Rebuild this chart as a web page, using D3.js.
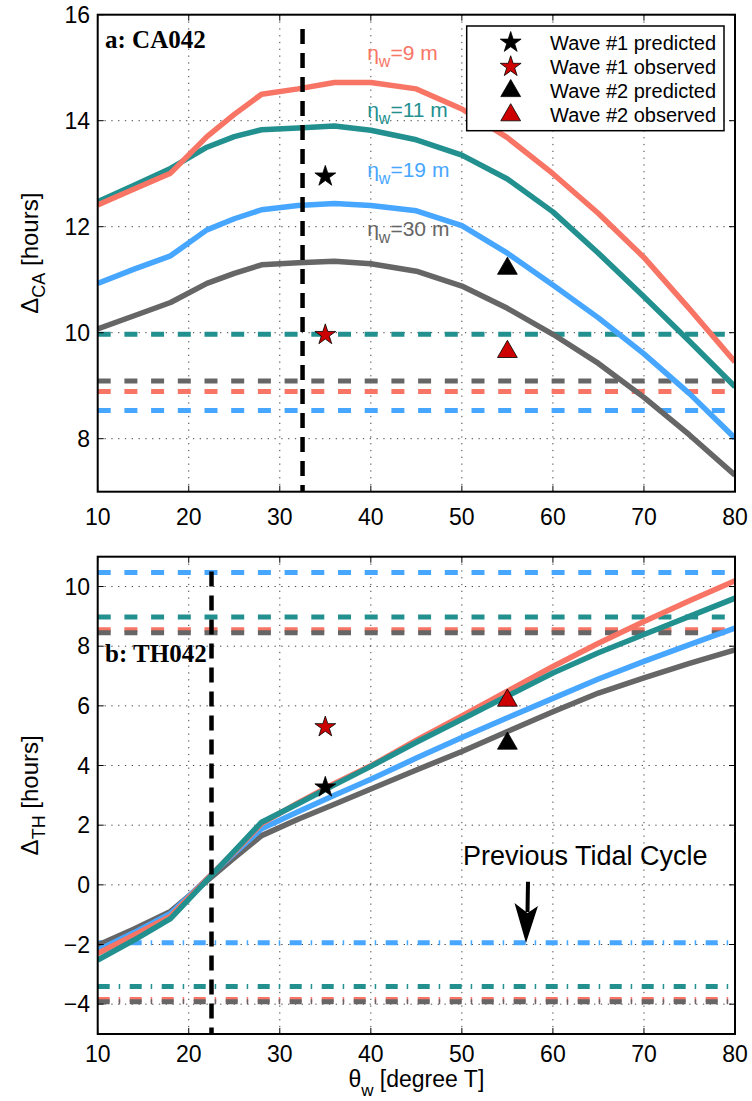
<!DOCTYPE html>
<html><head><meta charset="utf-8">
<script src="https://cdn.jsdelivr.net/npm/d3@7"></script>
<style>body{margin:0;background:#fff}svg{display:block;font-family:"Liberation Sans",Arial,sans-serif}</style>
</head><body><div id="chart"></div>
<script>
// ---------- data ----------
const theta = [10,14,18,22,25,28,32,36,40,45,50,55,60,65,70,75,80];
const seriesNames = ["9","11","19","30"];
const seriesColors = ["#F87565","#22908F","#47A6FF","#666666"];
// panel a: Delta_CA [hours]
const caEta9  = [12.41,12.71,13.01,13.70,14.12,14.50,14.60,14.72,14.72,14.60,14.22,13.68,13.00,12.25,11.42,10.45,9.45];
const caEta11 = [12.47,12.78,13.10,13.50,13.70,13.83,13.86,13.90,13.82,13.64,13.35,12.90,12.28,11.50,10.68,9.84,8.98];
const caEta19 = [10.93,11.20,11.45,11.94,12.15,12.32,12.40,12.44,12.40,12.30,12.02,11.50,10.90,10.28,9.60,8.85,8.01];
const caEta30 = [10.07,10.32,10.57,10.93,11.12,11.28,11.32,11.35,11.30,11.16,10.88,10.46,9.97,9.42,8.78,8.07,7.31];
const caObsLevels = [8.89,9.97,8.53,9.09];          // dashed horizontal lines (per eta)
// panel b: Delta_TH [hours]
const thEta9  = [-2.30,-1.68,-1.05,0.20,1.10,2.05,2.75,3.40,3.99,4.85,5.66,6.49,7.32,8.10,8.83,9.52,10.19];
const thEta11 = [-2.52,-1.85,-1.13,0.16,1.13,2.10,2.72,3.35,3.97,4.78,5.55,6.33,7.10,7.78,8.39,9.00,9.61];
const thEta19 = [-2.19,-1.60,-0.96,0.20,1.05,1.88,2.45,3.00,3.54,4.25,4.94,5.60,6.25,6.90,7.49,8.05,8.61];
const thEta30 = [-2.02,-1.48,-0.89,0.13,0.90,1.65,2.20,2.70,3.21,3.85,4.47,5.14,5.80,6.43,6.94,7.42,7.88];
const thLevels = [8.55,8.98,10.47,8.45];            // dashed horizontal lines
const thPrevLevels = [-3.84,-3.41,-1.94,-3.92];     // dash-dot (previous tidal cycle)
// observations
const waveTheta = [35,55];
const caPredicted = [12.95,11.21], caObserved = [9.96,9.64];
const thPredicted = [3.27,4.74],  thObserved = [5.29,6.18];
const caVertical = 32.5, thVertical = 22.5;
const legendLabels = ["Wave #1 predicted","Wave #1 observed","Wave #2 predicted","Wave #2 observed"];
const xTicks = [10,20,30,40,50,60,70,80];
const caTicks = [8,10,12,14,16];
const thTicks = [-4,-2,0,2,4,6,8,10];

// ---------- layout ----------
const W=752,H=1101;
const svg=d3.select("#chart").append("svg").attr("width",W).attr("height",H);
const x=d3.scaleLinear().domain([10,80]).range([97.7,735]);
const yA=d3.scaleLinear().domain([7,16]).range([491.7,14.7]);
const yB=d3.scaleLinear().domain([-5,11]).range([1034,556.7]);
const RED="#CC0000";
const LW=5.5;

function panel(y, ticks){
  const g=svg.append("g");
  const [x0,x1]=x.range(), [y1,y0]=y.range();
  g.selectAll(".gx").data(xTicks.slice(1,-1)).join("line")
    .attr("x1",d=>x(d)).attr("x2",d=>x(d)).attr("y1",y0).attr("y2",y1)
    .attr("stroke","#444").attr("stroke-width",1).attr("stroke-dasharray","1.3,5.5");
  g.selectAll(".gy").data(ticks.filter(t=>t>y.domain()[0]&&t<y.domain()[1])).join("line")
    .attr("x1",x0).attr("x2",x1).attr("y1",d=>y(d)).attr("y2",d=>y(d))
    .attr("stroke","#444").attr("stroke-width",1).attr("stroke-dasharray","1.3,5.5");
  return g;
}
function frame(y, ticks, tickBaseline){
  const g=svg.append("g");
  const [x0,x1]=x.range(), [y1,y0]=y.range();
  const tl=6;
  xTicks.forEach(t=>{
    g.append("line").attr("x1",x(t)).attr("x2",x(t)).attr("y1",y1).attr("y2",y1-tl).attr("stroke","#000");
    g.append("line").attr("x1",x(t)).attr("x2",x(t)).attr("y1",y0).attr("y2",y0+tl).attr("stroke","#000");
  });
  ticks.forEach(t=>{
    g.append("line").attr("x1",x0).attr("x2",x0+tl).attr("y1",y(t)).attr("y2",y(t)).attr("stroke","#000");
    g.append("line").attr("x1",x1).attr("x2",x1-tl).attr("y1",y(t)).attr("y2",y(t)).attr("stroke","#000");
  });
  g.append("rect").attr("x",x0).attr("y",y0).attr("width",x1-x0).attr("height",y1-y0)
    .attr("fill","none").attr("stroke","#000").attr("stroke-width",2);
  g.selectAll(".xl").data(xTicks).join("text").attr("x",d=>x(d)).attr("y",tickBaseline)
    .attr("text-anchor","middle").attr("font-size",23).text(d=>d);
  g.selectAll(".yl").data(ticks).join("text").attr("x",90).attr("y",d=>y(d)).attr("dy","0.36em")
    .attr("text-anchor","end").attr("font-size",23).text(d=>d<0?"\u2212"+Math.abs(d):d);
}
function markers(g, y, pred, obs){
  const star=d3.symbol().type(d3.symbolStar).size(135);
  const tri=d3.symbol().type(d3.symbolTriangle).size(170);
  [[pred,"#000"],[obs,RED]].forEach(([vals,fill])=>{
    g.append("path").attr("d",star).attr("transform",`translate(${x(waveTheta[0])},${y(vals[0])})`)
      .attr("fill",fill).attr("stroke","#000").attr("stroke-width",0.8);
    g.append("path").attr("d",tri).attr("transform",`translate(${x(waveTheta[1])},${y(vals[1])})`)
      .attr("fill",fill).attr("stroke","#000").attr("stroke-width",0.8);
  });
}
const line=(y)=>d3.line().x((d,i)=>x(theta[i])).y(d=>y(d));

// ---------- panel a ----------
panel(yA,caTicks);
svg.append("clipPath").attr("id","cA").append("rect")
  .attr("x",97.7).attr("y",14.7).attr("width",735-97.7).attr("height",491.7-14.7);
const dA=svg.append("g").attr("clip-path","url(#cA)");
const caSeries=[caEta9,caEta11,caEta19,caEta30];
[3,0,1,2].forEach(i=>{
  dA.append("line").attr("x1",x(10)).attr("x2",x(80)).attr("y1",yA(caObsLevels[i])).attr("y2",yA(caObsLevels[i]))
    .attr("stroke",seriesColors[i]).attr("stroke-width",5).attr("stroke-dasharray","13,13.7");
});
[3,2,1,0].forEach(i=>{
  dA.append("path").attr("d",line(yA)(caSeries[i])).attr("fill","none")
    .attr("stroke",seriesColors[i]).attr("stroke-width",LW).attr("stroke-linejoin","round");
});
dA.append("line").attr("x1",x(caVertical)).attr("x2",x(caVertical)).attr("y1",yA(15.73)).attr("y2",yA(7))
  .attr("stroke","#000").attr("stroke-width",4.5).attr("stroke-dasharray","15,9");
const etaLabelY=[15.15,14.07,12.93,11.82];
seriesNames.forEach((n,i)=>{
  const t=dA.append("text").attr("x",x(39.6)).attr("y",yA(etaLabelY[i])).attr("font-size",21).attr("fill",seriesColors[i]);
  t.append("tspan").text("\u03B7");
  t.append("tspan").attr("font-size",16).attr("dy",7).text("w");
  t.append("tspan").attr("dy",-7).text("="+n+" m");
});
markers(dA,yA,caPredicted,caObserved);
svg.append("text").attr("x",105).attr("y",48).attr("font-family","'Liberation Serif','Times New Roman',serif")
  .attr("font-weight","bold").attr("font-size",25).text("a: CA042");
frame(yA,caTicks,525);

// legend
const lg=svg.append("g");
lg.append("rect").attr("x",466.7).attr("y",26).attr("width",724-466.7).attr("height",104.7)
  .attr("fill","#fff").attr("stroke","#000").attr("stroke-width",1.5);
const legSym=[["star","#000"],["star",RED],["tri","#000"],["tri",RED]];
legendLabels.forEach((l,i)=>{
  const cy=42.5+i*24.2;
  const sym=legSym[i][0]==="star"?d3.symbol().type(d3.symbolStar).size(135):d3.symbol().type(d3.symbolTriangle).size(170);
  lg.append("path").attr("d",sym).attr("transform",`translate(510.7,${cy})`).attr("fill",legSym[i][1]).attr("stroke","#000").attr("stroke-width",0.8);
  lg.append("text").attr("x",550).attr("y",cy).attr("dy","0.36em").attr("font-size",20).text(l);
});

const ytA=svg.append("text").attr("transform",`translate(38,${(14.7+491.7)/2}) rotate(-90)`)
  .attr("text-anchor","middle").attr("font-size",24);
ytA.append("tspan").text("\u0394");
ytA.append("tspan").attr("font-size",18).attr("dy",7).text("CA");
ytA.append("tspan").attr("dy",-7).text(" [hours]");

// ---------- panel b ----------
panel(yB,thTicks);
svg.append("clipPath").attr("id","cB").append("rect")
  .attr("x",97.7).attr("y",556.7).attr("width",735-97.7).attr("height",1034-556.7);
const dB=svg.append("g").attr("clip-path","url(#cB)");
const thSeries=[thEta9,thEta11,thEta19,thEta30];
[0,3,1,2].forEach(i=>{
  dB.append("line").attr("x1",x(10)).attr("x2",x(80)).attr("y1",yB(thLevels[i])).attr("y2",yB(thLevels[i]))
    .attr("stroke",seriesColors[i]).attr("stroke-width",5).attr("stroke-dasharray","13,13.7");
});
[0,3,1,2].forEach(i=>{
  dB.append("line").attr("x1",x(10)).attr("x2",x(80)).attr("y1",yB(thPrevLevels[i])).attr("y2",yB(thPrevLevels[i]))
    .attr("stroke",seriesColors[i]).attr("stroke-width",5).attr("stroke-dasharray","12,9,1.5,9.5");
});
[3,2,0,1].forEach(i=>{
  dB.append("path").attr("d",line(yB)(thSeries[i])).attr("fill","none")
    .attr("stroke",seriesColors[i]).attr("stroke-width",LW).attr("stroke-linejoin","round");
});
dB.append("line").attr("x1",x(thVertical)).attr("x2",x(thVertical)).attr("y1",yB(10.5)).attr("y2",yB(-5))
  .attr("stroke","#000").attr("stroke-width",4.5).attr("stroke-dasharray","15,9");
markers(dB,yB,thPredicted,thObserved);
svg.append("text").attr("x",105).attr("y",662).attr("font-family","'Liberation Serif','Times New Roman',serif")
  .attr("font-weight","bold").attr("font-size",25).text("b: TH042");
// annotation
svg.append("text").attr("x",463).attr("y",865).attr("font-size",27).text("Previous Tidal Cycle");
svg.append("line").attr("x1",528).attr("y1",881.7).attr("x2",527.5).attr("y2",912).attr("stroke","#000").attr("stroke-width",4);
svg.append("path").attr("d","M526,943 L514.5,903 L527.5,913 L538,906 Z").attr("fill","#000");
frame(yB,thTicks,1062);

const ytB=svg.append("text").attr("transform",`translate(38,${(556.7+1034)/2}) rotate(-90)`)
  .attr("text-anchor","middle").attr("font-size",24);
ytB.append("tspan").text("\u0394");
ytB.append("tspan").attr("font-size",18).attr("dy",7).text("TH");
ytB.append("tspan").attr("dy",-7).text(" [hours]");

const xt=svg.append("text").attr("x",(97.7+735)/2).attr("y",1087).attr("text-anchor","middle").attr("font-size",23);
xt.append("tspan").text("\u03B8");
xt.append("tspan").attr("font-size",17).attr("dy",9).text("w");
xt.append("tspan").attr("dy",-9).text(" [degree T]");
</script></body></html>
